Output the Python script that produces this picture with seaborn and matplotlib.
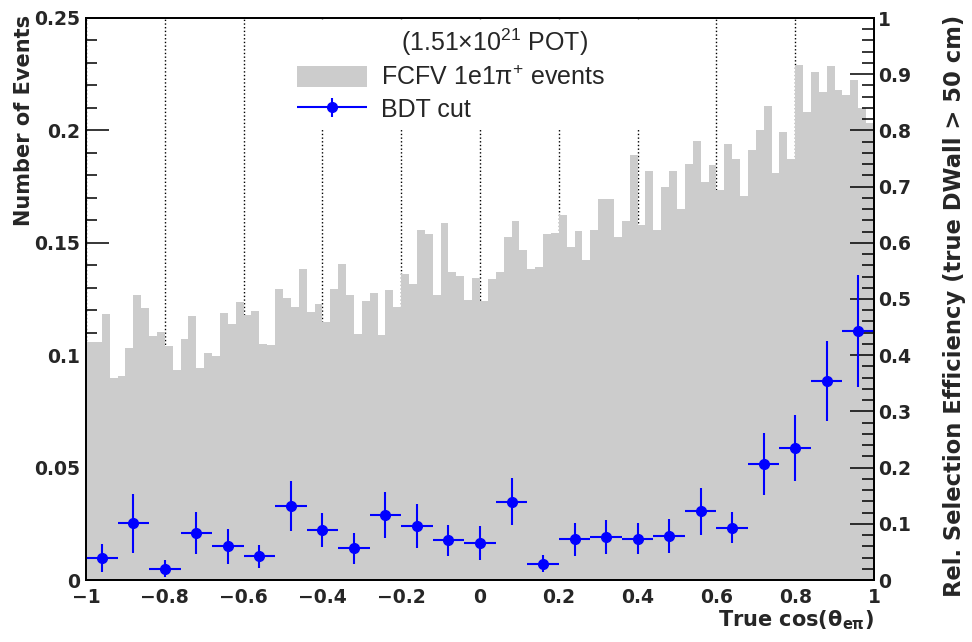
import numpy as np
import pandas as pd
import matplotlib
matplotlib.use("Agg")
import matplotlib.pyplot as plt
from matplotlib.ticker import MultipleLocator, FuncFormatter
from matplotlib.container import ErrorbarContainer
from matplotlib.legend_handler import HandlerErrorbar
import seaborn as sns

# True cos(theta_e-pi) binning of the FCFV sample (100 bins) and the efficiency (25 bins)
cos_edges = np.linspace(-1.0, 1.0, 101)
eff_edges = np.linspace(-1.0, 1.0, 26)

# FCFV 1e1pi+ events per bin
fcfv_events = [
    0.1057, 0.1060, 0.1182, 0.0900, 0.0906, 0.1031, 0.1269, 0.1210, 0.1085, 0.1105,
    0.1041, 0.0934, 0.1073, 0.1174, 0.0943, 0.1008, 0.0998, 0.1188, 0.1140, 0.1237,
    0.1177, 0.1198, 0.1050, 0.1045, 0.1296, 0.1253, 0.1216, 0.1382, 0.1191, 0.1228,
    0.1146, 0.1294, 0.1406, 0.1269, 0.1093, 0.1240, 0.1275, 0.1088, 0.1290, 0.1213,
    0.1361, 0.1317, 0.1557, 0.1538, 0.1266, 0.1590, 0.1372, 0.1354, 0.1244, 0.1342,
    0.1241, 0.1338, 0.1370, 0.1526, 0.1596, 0.1468, 0.1382, 0.1392, 0.1538, 0.1542,
    0.1625, 0.1480, 0.1552, 0.1425, 0.1558, 0.1696, 0.1696, 0.1526, 0.1596, 0.1891,
    0.1578, 0.1819, 0.1557, 0.1750, 0.1819, 0.1650, 0.1850, 0.1953, 0.1770, 0.1847,
    0.1736, 0.1938, 0.1873, 0.1707, 0.1913, 0.2000, 0.2109, 0.1812, 0.1994, 0.1873,
    0.2292, 0.2083, 0.2258, 0.2169, 0.2285, 0.2180, 0.2159, 0.2225, 0.2101, 0.2034,
]

# Relative selection efficiency after the BDT cut, with its uncertainty
bdt_eff = [
    0.0386, 0.1008, 0.0202, 0.0836, 0.0600, 0.0421, 0.1317, 0.0895, 0.0564, 0.1157,
    0.0955, 0.0706, 0.0658, 0.1394, 0.0290, 0.0724, 0.0765, 0.0735, 0.0789, 0.1222,
    0.0931, 0.2070, 0.2349, 0.3535, 0.4430,
]
bdt_err = [
    0.025, 0.052, 0.0146, 0.037, 0.031, 0.020, 0.045, 0.030, 0.028, 0.041,
    0.039, 0.028, 0.030, 0.042, 0.015, 0.029, 0.0297, 0.028, 0.030, 0.042,
    0.028, 0.055, 0.059, 0.071, 0.099,
]

legend_header = "(1.51×10$^{21}$ POT)"
hist_label = "FCFV 1e1$\\pi^{+}$ events"
eff_label = "BDT cut"
x_title = "True cos($\\theta_{e\\pi}$)"
y_title = "Number of Events"
y2_title = "Rel. Selection Efficiency (true DWall > 50 cm)"

sns.set_theme(style="ticks")
plt.rcParams["font.family"] = ["DejaVu Sans"]
plt.rcParams["font.weight"] = "bold"
plt.rcParams["mathtext.default"] = "regular"
plt.rcParams["axes.linewidth"] = 1.3
plt.rcParams["axes.edgecolor"] = "black"

W, H = 972, 642
fig = plt.figure(figsize=(W / 100, H / 100), dpi=100)
ax = fig.add_axes([86 / W, 62 / H, 788 / W, 562 / H])

hist_df = pd.DataFrame({
    "cos": 0.5 * (cos_edges[:-1] + cos_edges[1:]),
    "events": fcfv_events,
})
sns.histplot(data=hist_df, x="cos", weights="events", bins=list(cos_edges),
             element="step", fill=True, color="#cccccc", alpha=1.0, linewidth=0, ax=ax)
hist_handle = ax.collections[-1]

ax.set_xlim(-1, 1)
ax.set_ylim(0, 0.25)
ax.grid(False)
ax.set_axisbelow(True)
ax.xaxis.grid(True, which="major", linestyle=":", color="black", linewidth=1.0)


def fmt(v, _pos):
    s = f"{round(v, 6) + 0.0:g}"
    return s.replace("-", "\u2212")


TICK_FS = 13.5
ax.xaxis.set_major_locator(MultipleLocator(0.2))
ax.xaxis.set_minor_locator(MultipleLocator(0.05))
ax.yaxis.set_major_locator(MultipleLocator(0.05))
ax.yaxis.set_minor_locator(MultipleLocator(0.01))
ax.xaxis.set_major_formatter(FuncFormatter(fmt))
ax.yaxis.set_major_formatter(FuncFormatter(fmt))
ax.tick_params(axis="x", which="both", direction="in", top=False, bottom=True,
               width=1.1, labelsize=TICK_FS, pad=6, color="black")
ax.tick_params(axis="x", which="major", length=12.5)
ax.tick_params(axis="x", which="minor", length=6.5)
ax.tick_params(axis="y", which="both", direction="in", left=True, right=False,
               width=1.1, labelsize=TICK_FS, pad=4, color="black")
ax.tick_params(axis="y", which="major", length=16.5)
ax.tick_params(axis="y", which="minor", length=8)

ax.set_xlabel(x_title, fontsize=15, fontweight="bold", loc="right")
ax.xaxis.set_label_coords(1.0, -0.05)
ax.set_ylabel(y_title, fontsize=15, fontweight="bold", loc="top")
ax.yaxis.set_label_coords(-0.066, 1.006)

# Efficiency on the right-hand scale
ax2 = ax.twinx()
eff_centers = 0.5 * (eff_edges[:-1] + eff_edges[1:])
eff_halfwidth = 0.5 * np.diff(eff_edges)
eb = ax2.errorbar(eff_centers, bdt_eff, xerr=eff_halfwidth, yerr=bdt_err, fmt="o",
                  color="#0000ff", ms=7, elinewidth=1.5, capsize=0, label=eff_label)
ax2.set_ylim(0, 1)
ax2.grid(False)
ax2.yaxis.set_major_locator(MultipleLocator(0.1))
ax2.yaxis.set_minor_locator(MultipleLocator(0.02))
ax2.yaxis.set_major_formatter(FuncFormatter(fmt))
ax2.tick_params(axis="y", which="both", direction="in", right=True, left=False,
                width=1.1, labelsize=TICK_FS, pad=3, color="black")
ax2.tick_params(axis="y", which="major", length=17)
ax2.tick_params(axis="y", which="minor", length=8.5)
ax2.set_ylabel(y2_title, fontsize=16.3, fontweight="bold", loc="top")
ax2.yaxis.set_label_coords(1.0876, 1.006)
for sp in ax2.spines.values():
    sp.set_linewidth(1.3)

leg_font = {"family": "Liberation Sans", "size": 18, "weight": "normal"}
leg = ax2.legend(
    [hist_handle, eb], [hist_label, eff_label],
    title=legend_header, prop=leg_font, title_fontproperties=leg_font,
    loc="upper left", mode="expand",
    bbox_to_anchor=(290 / W, 1 - 127 / H, (700 - 290) / W, (127 - 20) / H),
    bbox_transform=fig.transFigure,
    frameon=True, fancybox=False, framealpha=1.0, facecolor="white", edgecolor="none",
    borderpad=0.28, handlelength=2.8, handleheight=0.92, handletextpad=0.56,
    labelspacing=0.3, borderaxespad=0,
    handler_map={ErrorbarContainer: HandlerErrorbar(xerr_size=1.4, yerr_size=0.39)},
)

fig.savefig("out.png", dpi=100)
